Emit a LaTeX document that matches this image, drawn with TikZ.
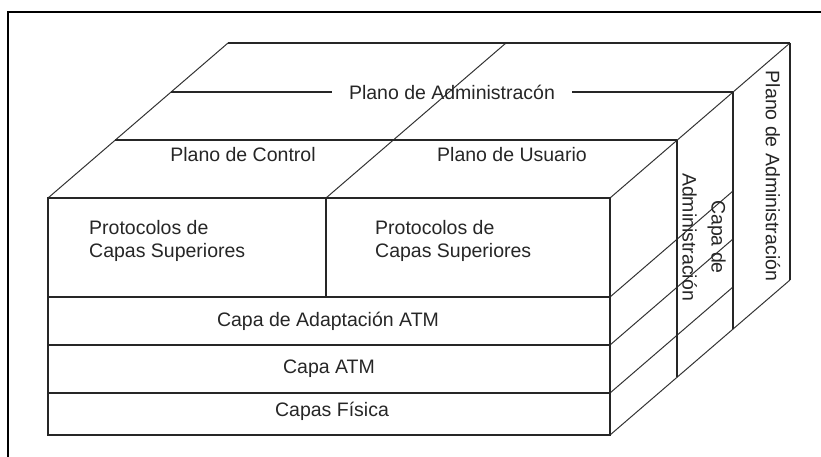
\documentclass[tikz,border=0pt]{standalone}
\usepackage{fontspec}
\setmainfont{Liberation Sans}
\begin{document}
\begin{tikzpicture}[x=1pt,y=-1pt,
  edge/.style={draw=black!85,line width=1.3pt},
  diag/.style={draw=black!80,line width=1pt},
  lbl/.style={inner sep=1pt,font=\fontsize{19.5}{23}\selectfont,text=black!85},
  vlbl/.style={lbl,rotate=-90,align=center}]
\useasboundingbox (0,0) rectangle (821,457);
% outer frame (only top and left sides visible)
\draw[line width=1.4pt] (8,457) -- (8,12) -- (821,12);

% named corners
\coordinate (F1) at (48,198);  \coordinate (F2) at (610,198);
\coordinate (F3) at (610,435); \coordinate (F4) at (48,435);
\coordinate (B1) at (228,43);  \coordinate (B2) at (790,43);
\coordinate (B3) at (790,280);
\coordinate (M1) at (326,198); \coordinate (M2) at (506,43);
\coordinate (P1a) at (115,140); \coordinate (P1b) at (677,140); \coordinate (P1c) at (677,377);
\coordinate (P2a) at (171,92);  \coordinate (P2b) at (733,92);  \coordinate (P2c) at (733,329);
\coordinate (R1) at (48,297); \coordinate (R1r) at (610,297); \coordinate (R1b) at (733,191);
\coordinate (R2) at (48,345); \coordinate (R2r) at (610,345); \coordinate (R2b) at (733,239);
\coordinate (R3) at (48,393); \coordinate (R3r) at (610,393); \coordinate (R3b) at (733,287);
\coordinate (D1) at (326,297);

% top face
\draw[diag] (F1) -- (B1);
\draw[diag] (M1) -- (M2);
\draw[diag] (F2) -- (B2);
\draw[edge] (B1) -- (B2);
\draw[edge] (P1a) -- (P1b);
% right face
\draw[diag] (F3) -- (B3);
\draw[diag] (R1r) -- (R1b);
\draw[diag] (R2r) -- (R2b);
\draw[diag] (R3r) -- (R3b);
\draw[edge] (P1b) -- (P1c);
\draw[edge] (P2b) -- (P2c);
\draw[edge] (B2) -- (B3);
% front face
\draw[edge] (F1) rectangle (F3);
\draw[edge] (R1) -- (R1r);
\draw[edge] (R2) -- (R2r);
\draw[edge] (R3) -- (R3r);
\draw[edge] (M1) -- (D1);

% labels
\node[lbl,inner xsep=17pt] (adm) at (452,92) {Plano de Administracón};
\draw[edge] (P2a) -- (adm.west);
\draw[edge] (adm.east) -- (P2b);
\node[lbl] (ctl) at (243,155) {Plano de Control};
\node[lbl] (usr) at (512,155) {Plano de Usuario};
\node[lbl,anchor=west,align=left] (pl) at (88,241) {Protocolos de\\Capas Superiores};
\node[lbl,anchor=west,align=left] (pr) at (374,241) {Protocolos de\\Capas Superiores};
\node[lbl] (aal) at (328,321) {Capa de Adaptación ATM};
\node[lbl] (atm) at (329,369) {Capa ATM};
\node[lbl] (fis) at (332,411) {Capas Física};
\node[vlbl,font=\fontsize{19.5}{29}\selectfont] (cadm) at (704,237) {Capa de\\Administración};
\node[vlbl] (padm) at (773,176) {Plano de Administración};
\end{tikzpicture}
\end{document}
